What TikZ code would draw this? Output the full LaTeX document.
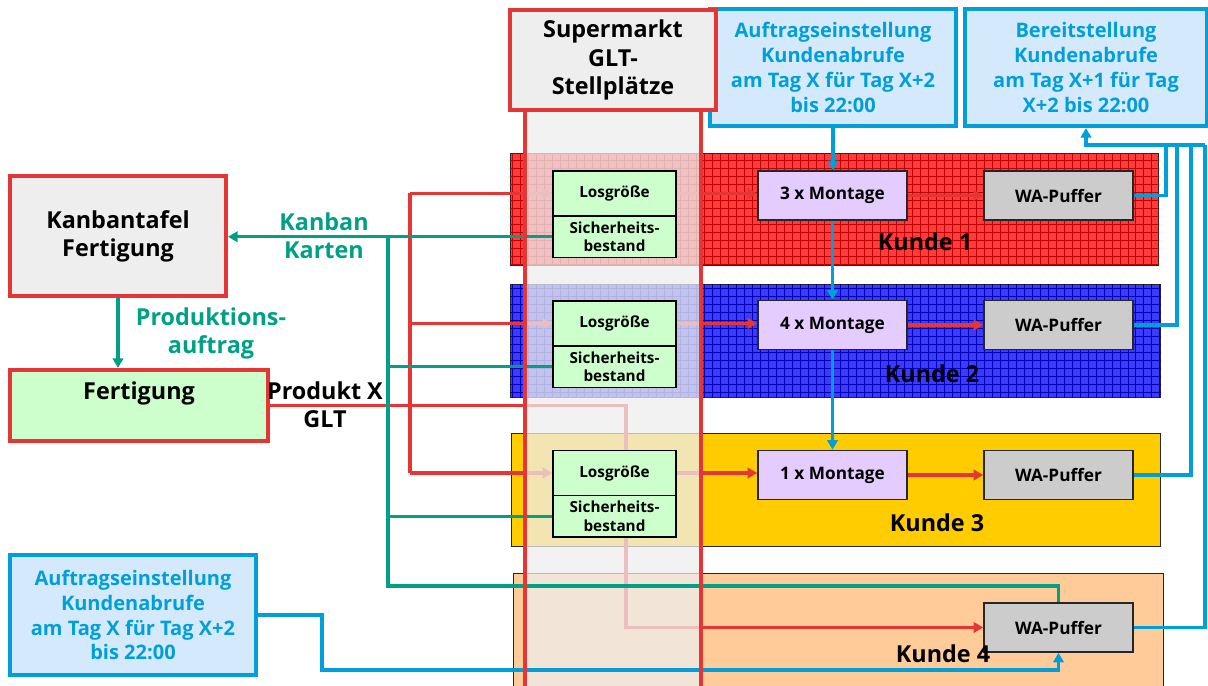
\documentclass[tikz,border=0pt]{standalone}
\usepackage{fontspec}
\setmainfont{Open Sans}
\usetikzlibrary{arrows.meta,positioning}

\definecolor{kred}{HTML}{E53535}
\definecolor{kteal}{HTML}{00A086}
\definecolor{kblue}{HTML}{009FD9}
\definecolor{kbluefill}{HTML}{D4E9FC}
\definecolor{kgreen}{HTML}{CCFFCC}
\definecolor{klila}{HTML}{E5CCFF}
\definecolor{kgrey}{HTML}{CCCCCC}
\definecolor{kpale}{HTML}{EEEEEE}
\definecolor{band1}{HTML}{FF3B3B}
\definecolor{band2}{HTML}{3B3BFF}
\definecolor{band3}{HTML}{FFCC00}
\definecolor{band4}{HTML}{FFCC99}

\newcommand\fBig{\fontsize{13.3}{16}\selectfont\bfseries}
\newcommand\fBlue{\fontsize{11.4}{14.2}\selectfont\bfseries}
\newcommand\fBox{\fontsize{9.8}{12}\selectfont\bfseries}
\newcommand\fSmall{\fontsize{8.7}{10.3}\selectfont\bfseries}

\pgfdeclarelayer{bands}
\pgfdeclarelayer{flow}
\pgfdeclarelayer{veil}
\pgfsetlayers{bands,flow,veil,main}

\begin{document}
\begin{tikzpicture}[x=0.02cm, y=-0.02cm,
  >={Triangle[length=5.5pt,width=6pt]},
  band/.style={draw=black!85, line width=0.8pt, anchor=north west},
  redbox/.style={draw=kred, line width=2.3pt, align=center, font=\fBig},
  bluebox/.style={draw=kblue, fill=kbluefill, line width=2.3pt, align=center,
    text=kblue, font=\fBlue, minimum width=4.92cm, minimum height=2.34cm},
  losbox/.style={draw, fill=kgreen, line width=0.9pt, minimum width=2.46cm,
    align=center, font=\fSmall},
  mbox/.style={draw=black!85, line width=0.9pt, minimum width=2.98cm,
    minimum height=0.98cm, font=\fBox},
  kunde/.style={font=\fBig},
  note/.style={align=center, font=\fBig},
  redline/.style={kred, line width=2pt},
  tealline/.style={kteal, line width=1.8pt},
  blueline/.style={kblue, line width=1.9pt}
]
  \useasboundingbox (0,0) rectangle (1208,686);

  % top boxes
  \node[bluebox] (auf1) at (833,67.5)
    {Auftragseinstellung\\Kundenabrufe\\am Tag X für Tag X+2\\bis 22:00};
  \node[bluebox, minimum width=4.84cm] (bereit) at (1086,67.5)
    {Bereitstellung\\Kundenabrufe\\am Tag X+1 für Tag\\X+2 bis 22:00};
  \node[redbox, fill=kpale, minimum width=4.12cm, minimum height=2cm] (super) at (613,60)
    {Supermarkt\\GLT-\\Stellplätze};

  % left side
  \node[redbox, fill=kpale, minimum width=4.32cm, minimum height=2.4cm] (kanban) at (118,236)
    {Kanbantafel\\Fertigung};
  \node[redbox, fill=kgreen, minimum width=5.16cm, minimum height=1.42cm, text depth=17pt] (fert) at (139,405.5)
    {Fertigung};
  \node[bluebox, minimum height=2.4cm] (auf2) at (133,615)
    {Auftragseinstellung\\Kundenabrufe\\am Tag X für Tag X+2\\bis 22:00};

  \node[note, text=kteal] (kkarten) at (324,236) {Kanban\\Karten};
  \node[note, text=kteal] (pauftrag) at (211,333) {Produktions-\\auftrag};
  \node[note] (produkt) at (325,405) {Produkt X\\GLT};

  % supermarket stock
  \node[losbox, minimum height=0.9cm] (los1) at (614.5,193.5) {Losgröße};
  \node[losbox, minimum height=0.75cm, below=-0.9pt of los1] (sb1) {Sicherheits-\\bestand};
  \node[losbox, minimum height=0.9cm] (los2) at (614.5,323.5) {Losgröße};
  \node[losbox, minimum height=0.75cm, below=-0.9pt of los2] (sb2) {Sicherheits-\\bestand};
  \node[losbox, minimum height=0.9cm] (los3) at (614.5,473) {Losgröße};
  \node[losbox, minimum height=0.75cm, below=-0.9pt of los3] (sb3) {Sicherheits-\\bestand};

  % assembly and shipping buffers
  \node[mbox, fill=klila] (mont1) at (832.5,195.5) {3 x Montage};
  \node[mbox, fill=klila] (mont2) at (832.5,325) {4 x Montage};
  \node[mbox, fill=klila] (mont3) at (832.5,475) {1 x Montage};
  \node[mbox, fill=kgrey] (puf1) at (1058.5,195.5) {WA-Puffer};
  \node[mbox, fill=kgrey] (puf2) at (1058.5,325) {WA-Puffer};
  \node[mbox, fill=kgrey] (puf3) at (1058.5,475) {WA-Puffer};
  \node[mbox, fill=kgrey] (puf4) at (1058.5,627.5) {WA-Puffer};

  \node[kunde] (kd1) at (925,242) {Kunde 1};
  \node[kunde] (kd2) at (932,374) {Kunde 2};
  \node[kunde] (kd3) at (937,523) {Kunde 3};
  \node[kunde] (kd4) at (943,654) {Kunde 4};

  % customer bands
  \begin{pgfonlayer}{bands}
    \node[band, fill=band1, minimum width=12.96cm, minimum height=2.24cm] (k1) at (510,153) {};
    \node[band, fill=band2, minimum width=13cm, minimum height=2.26cm] (k2) at (510,284) {};
    \node[band, fill=band3, minimum width=12.98cm, minimum height=2.26cm] (k3) at (511,433) {};
    \node[band, fill=band4, minimum width=13cm, minimum height=2.8cm] (k4) at (513,573) {};
    \begin{scope}
      \clip (k1.south west) rectangle (k1.north east);
      \draw[red!75!black, line width=0.35pt, step=0.16cm] (k1.south west) grid (k1.north east);
    \end{scope}
    \begin{scope}
      \clip (k2.south west) rectangle (k2.north east);
      \draw[blue!70!black, line width=0.35pt, step=0.16cm] (k2.south west) grid (k2.north east);
    \end{scope}
  \end{pgfonlayer}

  % material flow (red)
  \coordinate (rbus) at (410,0);
  \coordinate (pbend) at (626,0);
  \begin{pgfonlayer}{flow}
    \draw[redline] (los1.west -| rbus) -- (los3.west -| rbus);
    \foreach \i in {1,2,3} {
      \draw[redline,->] (los\i.west -| rbus) -- (los\i.west);
      \draw[redline,->] (los\i.east) -- (los\i.east -| mont\i.west);
      \draw[redline,->] (mont\i.east) -- (puf\i.west);
    }
    \draw[redline,->] (fert.east) -- (fert.east -| pbend) |- (puf4.west);
  \end{pgfonlayer}

  % supermarket column
  \begin{pgfonlayer}{veil}
    \node[anchor=north west, inner sep=0, minimum width=3.5cm, minimum height=11.8cm,
      fill=kpale, fill opacity=0.75] (col) at (525,110) {};
  \end{pgfonlayer}

  % kanban cards (teal)
  \coordinate (tlow) at (388,586);
  \draw[tealline,->] (sb1.west) -- (sb1.west -| kanban.east);
  \draw[tealline] (sb1.west -| tlow) -- (tlow) -| (puf4.north);
  \draw[tealline] (sb2.west) -- (sb2.west -| tlow);
  \draw[tealline] (sb3.west) -- (sb3.west -| tlow);
  \draw[tealline,->] (kanban.south) -- (kanban.south |- fert.north);

  % call-offs (blue)
  \coordinate (bx1) at (1166,145);
  \coordinate (bx2) at (1177,145);
  \coordinate (bx3) at (1191,145);
  \coordinate (bx4) at (1205,145);
  \coordinate (blow) at (322,670);
  \draw[blueline,->] (auf1.south) -- (auf1.south |- mont1.north);
  \draw[blueline,->] (mont1.south) -- (mont2.north);
  \draw[blueline,->] (mont2.south) -- (mont3.north);
  \draw[blueline] (puf1.east) -| (bx1);
  \draw[blueline] (puf2.east) -| (bx2);
  \draw[blueline] (puf3.east) -| (bx3);
  \draw[blueline] (puf4.east) -| (bx4);
  \draw[blueline,->] (bx4) -| (bereit.south);
  \draw[blueline,->] (auf2.east) -| (blow) -| (puf4.south);

  % column borders
  \draw[kred, line width=2.3pt] (col.north west) -- (col.south west);
  \draw[kred, line width=2.3pt] (col.north east) -- (col.south east);
\end{tikzpicture}
\end{document}
